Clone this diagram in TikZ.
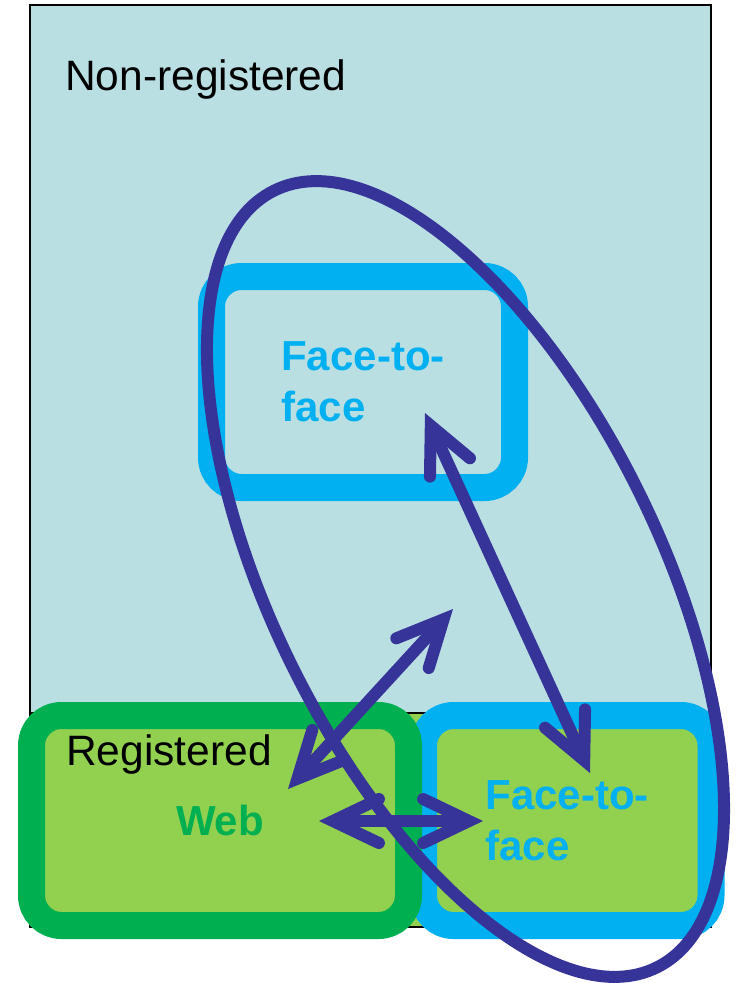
\documentclass[tikz,border=0pt]{standalone}
\usepackage{fontspec}
\setmainfont{Liberation Sans}
\usetikzlibrary{arrows.meta}
\definecolor{teal0}{RGB}{185,223,227}
\definecolor{lgreen}{RGB}{146,208,80}
\definecolor{dgreen}{RGB}{0,176,80}
\definecolor{sky}{RGB}{0,176,240}
\definecolor{navy0}{RGB}{54,51,153}
\begin{document}
\begin{tikzpicture}[x=1pt,y=-1pt,
  region/.style={draw=black,line width=1.5pt},
  box/.style={rounded corners=30pt,line width=27pt,fill=lgreen,inner sep=0pt,align=left,font=\fontsize{42}{51}\selectfont\bfseries},
  barbtip/.tip={Straight Barb[length=46pt,width=44pt,line cap=round,line join=miter]},
  link/.style={draw=navy0,line width=12pt,line cap=round,barbtip-barbtip},
  lbl/.style={anchor=base west,inner sep=0pt,font=\fontsize{42.5}{51}\selectfont}]
\useasboundingbox (0,0) rectangle (737,983);
\fill[white] (0,0) rectangle (737,983);
\draw[region,fill=teal0] (30,5) rectangle (711,926);
\draw[region,fill=lgreen] (30,713) rectangle (711,927);
\node[box,draw=sky,fill=teal0,text=sky,minimum width=303pt,minimum height=211pt] (ftfa) at (363,382) {Face-to-\\face};
\node[box,draw=sky,text=sky,minimum width=287.5pt,minimum height=210pt] (ftfb) at (567.25,820.5) {Face-to-\\face};
\node[box,draw=dgreen,text=dgreen,minimum width=377pt,minimum height=210pt] (web) at (220,820.5) {Web};
\node[lbl] (nonreg) at (65,90) {Non-registered};
\node[lbl] (reg) at (66,765) {Registered};
\draw[navy0,line width=12pt,rotate around={-63.8:(465.5,579)}] (465.5,579) ellipse [x radius=433pt,y radius=194pt];
\coordinate (a1) at (425,413);
\coordinate (a2) at (590,773);
\coordinate (b1) at (453,609);
\coordinate (b2) at (288,789);
\coordinate (c1) at (319,821);
\coordinate (c2) at (483,821);
\draw[link] (a1) -- (a2);
\draw[link] (b1) -- (b2);
\draw[link] (c1) -- (c2);
\end{tikzpicture}
\end{document}
